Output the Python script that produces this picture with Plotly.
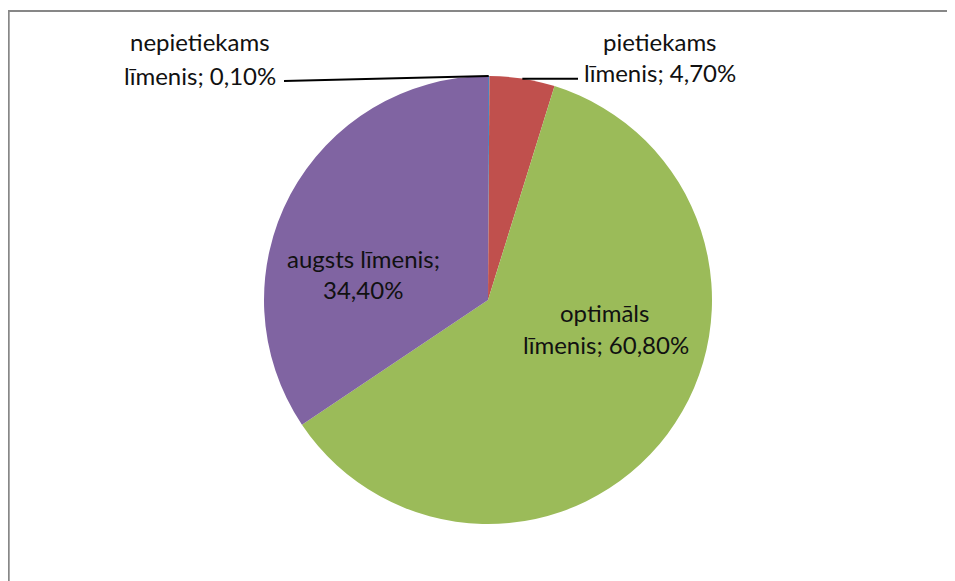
import math
import plotly.graph_objects as go

# ---- data ----
labels = ["nepietiekams līmenis", "pietiekams līmenis", "optimāls līmenis", "augsts līmenis"]
values = [0.10, 4.70, 60.80, 34.40]
colors = ["#4F81BD", "#C0504D", "#9BBB59", "#8064A2"]

W, H = 955, 581
OFF = 8  # page body margin offset
CX, CY, R = 488, 300, 224  # pie geometry in page pixels


def px(x):
    return (x - OFF) / W


def py(y):
    return 1 - (y - OFF) / H


def fmt(v):
    return f"{v:.2f}".replace(".", ",") + "%"


fig = go.Figure(go.Pie(
    labels=labels,
    values=values,
    marker=dict(colors=colors, line=dict(width=0)),
    sort=False,
    direction="clockwise",
    rotation=0,
    textinfo="none",
    hoverinfo="label+percent",
    domain=dict(x=[px(CX - R), px(CX + R)], y=[py(CY + R), py(CY - R)]),
    showlegend=False,
))

# mid-angle edge points of each slice (from data)
total = sum(values)
mids = []
acc = 0
for v in values:
    a = (acc + v / 2) / total * 2 * math.pi
    mids.append((CX + R * math.sin(a), CY - R * math.cos(a)))
    acc += v

shapes = [
    dict(type="rect", xref="paper", yref="paper", x0=px(8.7), y0=py(11), x1=px(1100), y1=py(700),
         line=dict(color="#878787", width=2), fillcolor="rgba(0,0,0,0)", layer="above"),
    # leader lines
    dict(type="line", xref="paper", yref="paper", x0=px(mids[0][0]), y0=py(mids[0][1]),
         x1=px(284), y1=py(81), line=dict(color="black", width=2)),
    dict(type="line", xref="paper", yref="paper", x0=px(mids[1][0]), y0=py(mids[1][1]),
         x1=px(578), y1=py(mids[1][1]), line=dict(color="black", width=2)),
]

# label lines: (text, x_center_px, y_center_px)
name_parts = [lab.split(" ") for lab in labels]
label_lines = [
    (name_parts[0][0], 200, 41),
    (name_parts[0][1] + "; " + fmt(values[0]), 200, 75),
    (name_parts[1][0], 660, 41),
    (name_parts[1][1] + "; " + fmt(values[1]), 660, 73),
    (labels[3] + ";", 363, 258),
    (fmt(values[3]), 363, 290),
    (name_parts[2][0], 604, 312),
    (name_parts[2][1] + "; " + fmt(values[2]), 606, 344),
]

annotations = [
    dict(text=t, x=px(x), y=py(y), xref="paper", yref="paper", showarrow=False,
         xanchor="center", yanchor="middle", font=dict(family="Lato", size=24, color="#111111"))
    for t, x, y in label_lines
]

fig.update_layout(
    width=W, height=H,
    margin=dict(l=0, r=0, t=0, b=0),
    paper_bgcolor="white",
    plot_bgcolor="white",
    shapes=shapes,
    annotations=annotations,
)

fig.write_html("out.html")
